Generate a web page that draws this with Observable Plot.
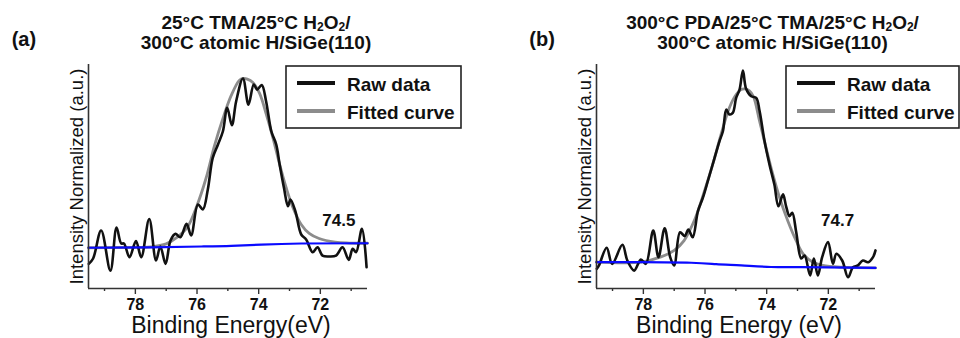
<!DOCTYPE html>
<html>
<head>
<meta charset="utf-8">
<script src="https://cdn.jsdelivr.net/npm/d3@7"></script>
<script src="https://cdn.jsdelivr.net/npm/@observablehq/plot@0.6"></script>
<style>
  body { margin: 0; background: #fff; }
  #chart { position: relative; width: 960px; height: 338px; overflow: hidden; }
  #chart svg { position: absolute; top: 0; }
  #chart g[aria-label="x-axis tick label"] text { font-weight: bold; }
</style>
</head>
<body>
<div id="chart"></div>
<script>
// Si 2p spectra: binding energy (eV) vs normalized intensity (a.u., 0-100)

// (a) 25°C TMA / 25°C H2O2 / 300°C atomic H on SiGe(110)
const energyA = [79.51, 79.37, 79.11, 78.81, 78.61, 78.46, 78.37, 78.19, 77.98, 77.81, 77.55, 77.33, 77.19, 77.02, 76.86, 76.70, 76.54, 76.34, 76.19, 75.97, 75.81, 75.65, 75.49, 75.32, 75.16, 75.02, 74.87, 74.73, 74.51, 74.33, 74.16, 74.05, 73.90, 73.76, 73.59, 73.43, 73.32, 73.18, 73.05, 72.97, 72.81, 72.62, 72.46, 72.25, 72.09, 71.93, 71.71, 71.49, 71.28, 71.08, 70.95, 70.84, 70.65, 70.50];
const rawA = [11.0, 13.4, 25.9, 8.0, 27.2, 20.1, 20.1, 14.0, 21.2, 14.0, 31.0, 12.5, 18.75, 11.0, 21.4, 24.4, 22.9, 28.9, 23.7, 37.5, 35.3, 44.2, 58.3, 64.3, 70.2, 80.7, 72.9, 83.6, 93.75, 82.1, 91.1, 88.8, 90.8, 83.6, 70.2, 64.3, 55.4, 45.0, 36.7, 39.7, 34.5, 24.1, 21.9, 16.2, 18.4, 14.7, 14.3, 14.7, 18.4, 12.8, 17.7, 16.2, 26.7, 9.5];
const fitEnergyA = [79.52, 78.46, 77.49, 77.00, 76.65, 76.32, 76.00, 75.71, 75.44, 75.16, 74.89, 74.63, 74.50, 74.37, 74.19, 73.97, 73.76, 73.54, 73.32, 73.11, 72.89, 72.62, 72.36, 72.04, 71.52, 71.06, 70.47];
const fitA = [18.2, 18.3, 18.6, 19.9, 22.8, 27.2, 37.1, 49.1, 63.4, 75.9, 86.2, 92.9, 93.75, 93.5, 92.0, 87.1, 78.1, 67.4, 55.4, 45.1, 36.2, 28.6, 24.6, 22.3, 20.7, 20.3, 20.2];
const baseEnergyA = [79.52, 77.49, 75.86, 74.89, 73.92, 72.62, 70.47];
const baseA = [18.2, 18.4, 18.75, 19.05, 19.6, 20.1, 20.2];

// (b) 300°C PDA / 25°C TMA / 25°C H2O2 / 300°C atomic H on SiGe(110)
const energyB = [79.51, 79.44, 79.19, 79.01, 78.68, 78.52, 78.30, 78.08, 77.92, 77.68, 77.51, 77.31, 77.13, 77.00, 76.81, 76.66, 76.54, 76.40, 76.23, 76.07, 75.91, 75.69, 75.53, 75.42, 75.31, 75.21, 75.10, 74.99, 74.88, 74.77, 74.67, 74.50, 74.34, 74.23, 74.07, 73.91, 73.75, 73.62, 73.47, 73.37, 73.26, 73.17, 73.04, 72.88, 72.77, 72.59, 72.47, 72.34, 72.20, 72.01, 71.85, 71.74, 71.55, 71.36, 71.20, 71.04, 70.88, 70.71, 70.55, 70.47];
const rawB = [8.8, 10.3, 18.2, 11.0, 19.5, 12.5, 8.0, 12.9, 11.0, 25.9, 14.0, 26.9, 14.0, 10.3, 25.1, 23.4, 26.3, 22.9, 34.5, 40.5, 47.9, 58.3, 65.8, 70.2, 79.9, 77.7, 78.4, 85.1, 88.8, 97.3, 89.3, 85.8, 85.1, 79.2, 65.8, 55.4, 46.4, 36.7, 42.0, 36.7, 32.3, 33.8, 25.0, 13.4, 14.7, 5.8, 13.4, 5.8, 14.0, 20.7, 11.0, 15.5, 12.5, 5.0, 9.5, 10.3, 12.5, 11.7, 14.0, 17.0];
const fitEnergyB = [79.52, 78.07, 77.43, 77.00, 76.68, 76.32, 76.02, 75.75, 75.48, 75.21, 74.99, 74.83, 74.70, 74.56, 74.43, 74.23, 74.02, 73.80, 73.58, 73.31, 73.04, 72.82, 72.50, 72.18, 71.58, 70.47];
const fitB = [11.75, 11.8, 14.1, 17.0, 21.4, 31.25, 43.4, 55.4, 68.75, 80.7, 86.6, 88.8, 89.1, 88.2, 85.7, 74.7, 62.8, 50.9, 40.5, 30.0, 21.2, 15.5, 11.7, 10.3, 9.5, 9.2];
const baseEnergyB = [79.52, 78.07, 76.45, 75.64, 74.83, 73.86, 72.88, 70.47];
const baseB = [11.75, 11.75, 11.5, 10.9, 10.3, 9.6, 9.5, 9.2];

// Fitted peak positions (eV), printed beside each spectrum
const peakCenters = [74.5, 74.7];

// Text
const panelLetters = ["(a)", "(b)"];
const titleLines = [
  ["25°C TMA/25°C H_2O_2/", "300°C atomic H/SiGe(110)"],
  ["300°C PDA/25°C TMA/25°C H_2O_2/", "300°C atomic H/SiGe(110)"]
];
const xLabels = ["Binding Energy(eV)", "Binding Energy (eV)"];
const yLabel = "Intensity Normalized (a.u.)";
const legendLabels = ["Raw data", "Fitted curve"];
const majorTicks = [78, 76, 74, 72];
const minorTicks = [79, 77, 75, 73, 71];

const FONT = "Liberation Sans, Arial, Helvetica, sans-serif";
const X_DOMAIN = [79.52, 70.47];
const zip = (xs, ys) => xs.map((e, i) => ({e, v: ys[i]}));

const panels = [
  {left: 0, ml: 88, mr: 113, raw: zip(energyA, rawA), fit: zip(fitEnergyA, fitA), base: zip(baseEnergyA, baseA),
   peak: peakCenters[0], labelAt: [71.4, 28.1], titleX: 256, letterX: 11.7, legendX: 286, legendW: 175},
  {left: 480, ml: 116, mr: 85, raw: zip(energyB, rawB), fit: zip(fitEnergyB, fitB), base: zip(baseEnergyB, baseB),
   peak: peakCenters[1], labelAt: [71.7, 27.7], titleX: 292.5, letterX: 49.3, legendX: 306, legendW: 173}
];

const root = document.getElementById("chart");

panels.forEach((p, i) => {
  const svg = Plot.plot({
    width: 480,
    height: 338,
    marginLeft: p.ml,
    marginRight: p.mr,
    marginTop: 64,
    marginBottom: 50,
    style: {fontFamily: FONT, fontSize: "16px", background: "transparent", overflow: "visible"},
    x: {domain: X_DOMAIN, axis: null},
    y: {domain: [0, 100], axis: null},
    marks: [
      Plot.line(p.fit, {x: "e", y: "v", stroke: "#8c8c8c", strokeWidth: 2.8, curve: "catmull-rom"}),
      Plot.line(p.raw, {x: "e", y: "v", stroke: "#111", strokeWidth: 2.6, curve: "catmull-rom"}),
      Plot.line(p.base, {x: "e", y: "v", stroke: "#0a0aff", strokeWidth: 2.2, curve: "natural"}),
      // axis lines (left and bottom only)
      Plot.ruleY([0], {stroke: "#333", strokeWidth: 1.6}),
      Plot.ruleX([X_DOMAIN[0]], {stroke: "#333", strokeWidth: 1.6}),
      Plot.axisX({ticks: majorTicks, tickSize: 6, tickPadding: 4, fontSize: 16, fontWeight: "bold",
                  stroke: "#333", strokeWidth: 1.4, label: null, tickFormat: d => String(d), fill: "#111"}),
      Plot.axisX({ticks: minorTicks, tickSize: 3, stroke: "#333", strokeWidth: 1.4, label: null, tickFormat: () => ""}),
      Plot.text([xLabels[i]], {frameAnchor: "bottom", lineAnchor: "bottom", textAnchor: "middle", dy: 44, dx: 3,
                               fontSize: 23, fill: "#111", text: d => d}),
      Plot.text([yLabel], {frameAnchor: "left", lineAnchor: "bottom", textAnchor: "middle", rotate: -90, dx: -5.5,
                           fontSize: 18.5, fill: "#111", text: d => d}),
      Plot.text([p.peak], {x: () => p.labelAt[0], y: () => p.labelAt[1], text: d => d.toFixed(1),
                           lineAnchor: "bottom", textAnchor: "middle", fontSize: 17, fontWeight: "bold", fill: "#111"})
    ]
  });
  svg.style.left = p.left + "px";
  root.appendChild(svg);

  const g = d3.select(svg).append("g").attr("font-family", FONT).attr("fill", "#111");

  // Panel letter
  g.append("text").attr("x", p.letterX).attr("y", 46).attr("text-anchor", "start")
    .attr("font-size", 20).attr("font-weight", "bold").text(panelLetters[i]);

  // Two-line title; "_n" marks a subscript digit
  titleLines[i].forEach((line, k) => {
    const t = g.append("text").attr("x", p.titleX).attr("y", k === 0 ? 28.5 : 49)
      .attr("text-anchor", "middle").attr("font-size", 19).attr("font-weight", "bold");
    let shift = 0;
    line.split(/(_\d)/).filter(s => s.length).forEach(part => {
      if (part.startsWith("_")) {
        t.append("tspan").attr("font-size", 12).attr("dy", 2.5 - shift).text(part.slice(1));
        shift = 2.5;
      } else {
        t.append("tspan").attr("dy", -shift).text(part);
        shift = 0;
      }
    });
  });

  // Legend box
  const L = p.legendX;
  g.append("rect").attr("x", L).attr("y", 66).attr("width", p.legendW).attr("height", 62)
    .attr("fill", "#fff").attr("stroke", "#222").attr("stroke-width", 1.6);
  const swatches = ["#111", "#8c8c8c"];
  legendLabels.forEach((label, k) => {
    const yy = k === 0 ? 83 : 111;
    g.append("line").attr("x1", L + 11).attr("x2", L + 49).attr("y1", yy).attr("y2", yy)
      .attr("stroke", swatches[k]).attr("stroke-width", 4);
    g.append("text").attr("x", L + 61).attr("y", yy + 7.5).attr("text-anchor", "start")
      .attr("font-size", 19).attr("font-weight", "bold").text(label);
  });
});
</script>
</body>
</html>
